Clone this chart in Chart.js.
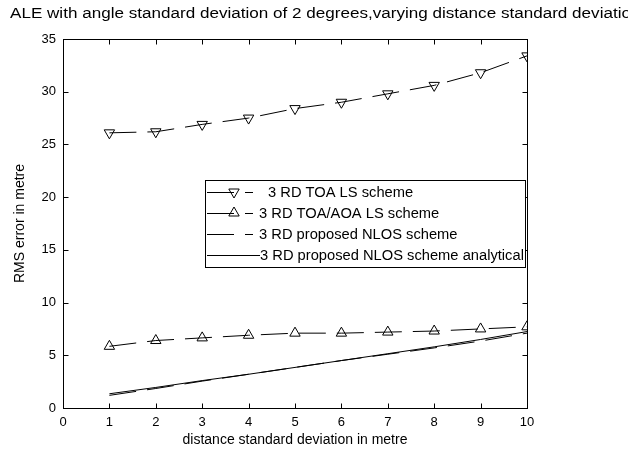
<!DOCTYPE html>
<html>
<head>
<meta charset="utf-8">
<script src="https://cdn.jsdelivr.net/npm/chart.js@4/dist/chart.umd.min.js"></script>
<style>
  html, body { margin:0; padding:0; background:#fff; }
  #wrap { width:628px; height:458px; position:relative; }
</style>
</head>
<body>
<div id="wrap"><canvas id="c"></canvas></div>
<script>
// ---- data ----
const distSd = [1, 2, 3, 4, 5, 6, 7, 8, 9, 10];
const toaLs = [26.1, 26.2, 26.9, 27.5, 28.4, 29.0, 29.8, 30.6, 31.8, 33.4];
const toaAoaLs = [5.85, 6.4, 6.65, 6.9, 7.1, 7.1, 7.2, 7.3, 7.5, 7.7];
const nlosProposed = [1.2, 1.85, 2.55, 3.2, 3.85, 4.5, 5.1, 5.7, 6.35, 7.1];
const nlosAnalytical = [1.35, 1.95, 2.6, 3.2, 3.85, 4.5, 5.15, 5.8, 6.5, 7.25];
const seriesNames = ['3 RD TOA LS scheme', '3 RD TOA/AOA LS scheme', '3 RD proposed NLOS scheme', '3 RD proposed NLOS scheme analytical'];
const xTicks = [0, 1, 2, 3, 4, 5, 6, 7, 8, 9, 10];
const yTicks = [0, 5, 10, 15, 20, 25, 30, 35];

const FONT = '"Liberation Sans", Arial, Helvetica, sans-serif';
const DASH = [27, 11];
const pts = ys => ys.map((y, i) => ({ x: distSd[i], y }));

// the original export has slightly stretched text, squeeze it back in horizontally
function wideText(ctx, str, x, y, sx) {
  ctx.save();
  ctx.translate(x, y);
  ctx.scale(sx, 1);
  ctx.fillText(str, 0, 0);
  ctx.restore();
}

// MATLAB-ish frame: box + inward ticks on all four sides, plus the title
const framePlugin = {
  id: 'frame',
  afterDraw(chart) {
    const { ctx, chartArea: a, scales: { x, y } } = chart;
    ctx.save();
    ctx.strokeStyle = '#000';
    ctx.lineWidth = 1;
    const L = Math.round(a.left) + 0.5, R = Math.round(a.right) + 0.5;
    const T = Math.round(a.top) + 0.5, B = Math.round(a.bottom) + 0.5;
    ctx.strokeRect(L, T, R - L, B - T);
    ctx.beginPath();
    xTicks.forEach(v => {
      const px = Math.round(x.getPixelForValue(v)) + 0.5;
      ctx.moveTo(px, B); ctx.lineTo(px, B - 5);
      ctx.moveTo(px, T); ctx.lineTo(px, T + 5);
    });
    yTicks.forEach(v => {
      const py = Math.round(y.getPixelForValue(v)) + 0.5;
      ctx.moveTo(L, py); ctx.lineTo(L + 5, py);
      ctx.moveTo(R, py); ctx.lineTo(R - 5, py);
    });
    ctx.stroke();

    ctx.fillStyle = '#000';
    ctx.font = '14px ' + FONT;
    ctx.textAlign = 'left';
    ctx.textBaseline = 'middle';
    wideText(ctx, 'ALE with angle standard deviation of 2 degrees,varying distance standard deviation in metre', 10, 14, 1.22);
    ctx.restore();
  }
};

// boxed legend inside the axes, like the original
const legendPlugin = {
  id: 'boxLegend',
  afterDraw(chart) {
    const { ctx } = chart;
    const box = { l: 205, t: 180, r: 525, b: 267 };
    const rowY = [192, 213, 234, 255];
    const textX = [268, 259, 259, 260];
    ctx.save();
    ctx.fillStyle = '#fff';
    ctx.fillRect(box.l, box.t, box.r - box.l, box.b - box.t);
    ctx.strokeStyle = '#000';
    ctx.lineWidth = 1;
    ctx.strokeRect(box.l + 0.5, box.t + 0.5, box.r - box.l, box.b - box.t);
    chart.data.datasets.forEach((ds, i) => {
      const yy = rowY[i] + 0.5;
      ctx.strokeStyle = '#000';
      ctx.lineWidth = 1;
      ctx.setLineDash(ds.borderDash || []);
      ctx.beginPath();
      ctx.moveTo(207, yy);
      ctx.lineTo(ds.borderDash && ds.borderDash.length ? 253 : textX[i], yy);
      ctx.stroke();
      ctx.setLineDash([]);
      if (ds.pointRadius > 0 && Chart.helpers && Chart.helpers.drawPoint) {
        ctx.fillStyle = 'rgba(0,0,0,0)';
        Chart.helpers.drawPoint(ctx, {
          pointStyle: ds.pointStyle, rotation: ds.pointRotation || 0,
          radius: ds.pointRadius, borderWidth: 1
        }, 234, rowY[i]);
      }
      ctx.fillStyle = '#000';
      ctx.font = '14px ' + FONT;
      ctx.textBaseline = 'middle';
      wideText(ctx, seriesNames[i], textX[i], rowY[i] + 1, 1.05);
    });
    ctx.restore();
  }
};

const common = { borderColor: '#000', borderWidth: 1, fill: false, tension: 0, pointBorderWidth: 1 };

new Chart(document.getElementById('c'), {
  type: 'line',
  data: {
    datasets: [
      { ...common, label: seriesNames[0], data: pts(toaLs), borderDash: DASH,
        pointStyle: 'triangle', pointRotation: 180, pointRadius: 6,
        pointBackgroundColor: 'rgba(0,0,0,0)', pointBorderColor: '#000' },
      { ...common, label: seriesNames[1], data: pts(toaAoaLs), borderDash: DASH,
        pointStyle: 'triangle', pointRadius: 6,
        pointBackgroundColor: 'rgba(0,0,0,0)', pointBorderColor: '#000' },
      { ...common, label: seriesNames[2], data: pts(nlosProposed), borderDash: DASH, pointRadius: 0 },
      { ...common, label: seriesNames[3], data: pts(nlosAnalytical), pointRadius: 0 }
    ]
  },
  options: {
    responsive: true,
    maintainAspectRatio: false,
    animation: false,
    devicePixelRatio: 1,
    layout: { padding: { left: 0, right: 101, top: 39, bottom: 0 } },
    plugins: { legend: { display: false }, title: { display: false }, tooltip: { enabled: false } },
    scales: {
      x: {
        type: 'linear', min: 0, max: 10,
        afterFit: s => { s.height = 50; },
        afterBuildTicks: s => { s.ticks = xTicks.map(v => ({ value: v })); },
        grid: { display: false, drawTicks: false },
        border: { display: false },
        ticks: { color: '#000', padding: 7, maxRotation: 0, font: { family: FONT, size: 13 } },
        title: { display: true, text: 'distance standard deviation in metre', color: '#000',
                 padding: { top: 0, bottom: 9 }, font: { family: FONT, size: 14 } }
      },
      y: {
        min: 0, max: 35,
        afterFit: s => { s.width = 63; },
        afterBuildTicks: s => { s.ticks = yTicks.map(v => ({ value: v })); },
        grid: { display: false, drawTicks: false },
        border: { display: false },
        ticks: { color: '#000', padding: 7, font: { family: FONT, size: 13 } },
        title: { display: true, text: 'RMS error in metre', color: '#000',
                 padding: { top: 12, bottom: 0 }, font: { family: FONT, size: 14 } }
      }
    }
  },
  plugins: [framePlugin, legendPlugin]
});
</script>
</body>
</html>
